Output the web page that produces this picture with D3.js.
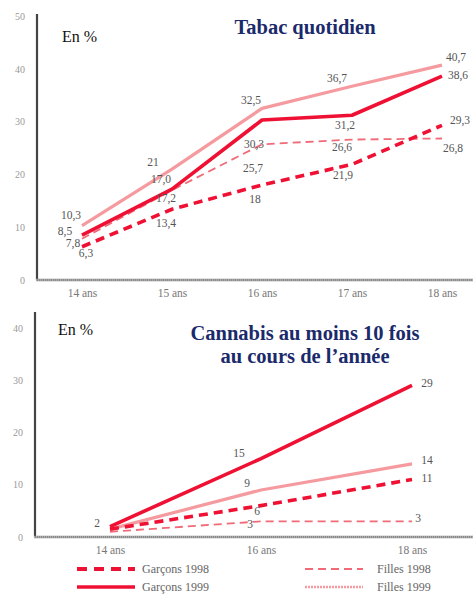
<!DOCTYPE html>
<html><head><meta charset="utf-8">
<script src="https://cdn.jsdelivr.net/npm/d3@7/dist/d3.min.js"></script>
<style>
html,body{margin:0;padding:0;background:#fff;}
svg{display:block;}
</style></head>
<body>
<svg id="c" width="473" height="595"></svg>
<script>
// ---------- DATA ----------
const tabacAges = ["14 ans", "15 ans", "16 ans", "17 ans", "18 ans"];
const tabacGarcons1998 = [6.3, 13.4, 18, 21.9, 29.3];
const tabacGarcons1999 = [8.5, 17.2, 30.3, 31.2, 38.6];
const tabacFilles1998 = [7.8, 17.0, 25.7, 26.6, 26.8];
const tabacFilles1999 = [10.3, 21, 32.5, 36.7, 40.7];
const tabacTextG98 = ["6,3", "13,4", "18", "21,9", "29,3"];
const tabacTextG99 = ["8,5", "17,2", "30,3", "31,2", "38,6"];
const tabacTextF98 = ["7,8", "17,0", "25,7", "26,6", "26,8"];
const tabacTextF99 = ["10,3", "21", "32,5", "36,7", "40,7"];
const tabacTicks = [0, 10, 20, 30, 40, 50];

const cannabisAges = ["14 ans", "16 ans", "18 ans"];
const cannabisGarcons1998 = [1.5, 6, 11];
const cannabisGarcons1999 = [2, 15, 29];
const cannabisFilles1998 = [1, 3, 3];
const cannabisFilles1999 = [1.5, 9, 14];
const cannabisTextG98 = [null, "6", "11"];
const cannabisTextG99 = ["2", "15", "29"];
const cannabisTextF98 = [null, "3", "3"];
const cannabisTextF99 = [null, "9", "14"];
const cannabisTicks = [0, 10, 20, 30, 40];

const legendNames = ["Garçons 1998", "Garçons 1999", "Filles 1998", "Filles 1999"];

// ---------- STYLES / LABEL OFFSETS ----------
const RED = "#ee1133";
const styles = {
  g98: {stroke: RED, width: 3.6, dash: "9,6"},
  g99: {stroke: RED, width: 3.6, dash: null},
  f98: {stroke: "#f06a78", width: 1.8, dash: "8,5"},
  f99: {stroke: "#f59a9f", width: 3.2, dash: null}
};
const tabacOff = {
  f99: [[-11,-11],[-19,-7],[-11,-8],[-15,-8],[14,-8]],
  g99: [[-17,-4],[-6,9],[-8,24],[-7,10],[16,-1]],
  f98: [[-9,4],[-11,-11],[-9,24],[-10,7],[11,9]],
  g98: [[4,6],[-6,14],[-7,14],[-9,11],[18,-5]]
};
const cannabisOff = {
  g99: [[-13,-4],[-22,-6],[15,-3]],
  f99: [null,[-14,-7],[15,-4]],
  g98: [null,[-4,5],[15,-2]],
  f98: [null,[-11,3],[6,-3]]
};

const svg = d3.select("#c");
const SERIF = "Liberation Serif, Times New Roman, serif";

function panel(cfg) {
  const x = d3.scalePoint().domain(cfg.ages).range(cfg.xr);
  const y = d3.scaleLinear().domain([0, cfg.ymax]).range(cfg.yr);
  const g = svg.append("g");

  // y axis
  const ya = g.append("g").attr("transform", `translate(${cfg.axisX},0)`)
    .call(d3.axisLeft(y).tickValues(cfg.ticks).tickSize(0).tickPadding(12));
  ya.select(".domain").remove();
  ya.selectAll("text").attr("font-family", SERIF).attr("font-size", 10).attr("fill", "#999");
  g.append("line").attr("x1", cfg.axisX).attr("x2", cfg.axisX)
    .attr("y1", cfg.axisTop).attr("y2", y(0)).attr("stroke", "#444").attr("stroke-width", 2.2);

  // x axis
  const xa = g.append("g").attr("transform", `translate(0,${y(0)})`)
    .call(d3.axisBottom(x).tickSize(0).tickPadding(9));
  xa.select(".domain").remove();
  xa.selectAll("text").attr("font-family", SERIF).attr("font-size", 11.5).attr("fill", "#777");
  g.append("line").attr("x1", cfg.axisX - 1).attr("x2", 473)
    .attr("y1", y(0)).attr("y2", y(0)).attr("stroke", "#8a8a8a").attr("stroke-width", 2.6);
  g.append("line").attr("x1", cfg.axisX - 1).attr("x2", 473)
    .attr("y1", y(0)).attr("y2", y(0)).attr("stroke", "#ccc").attr("stroke-width", 1)
    .attr("stroke-dasharray", "1,1");

  const line = d3.line().x((d, i) => x(cfg.ages[i])).y(d => y(d));
  cfg.series.forEach(s => {
    const st = styles[s.key];
    g.append("path").datum(s.values).attr("d", line)
      .attr("fill", "none").attr("stroke", st.stroke).attr("stroke-width", st.width)
      .attr("stroke-dasharray", st.dash).attr("stroke-linejoin", "round");
  });
  cfg.series.forEach(s => {
    s.values.forEach((v, i) => {
      const o = cfg.off[s.key][i];
      if (!o || s.text[i] == null) return;
      g.append("text").attr("x", x(cfg.ages[i]) + o[0]).attr("y", y(v) + o[1])
        .attr("dy", "0.35em").attr("text-anchor", "middle")
        .attr("font-family", SERIF).attr("font-size", 11.5).attr("fill", "#555")
        .text(s.text[i]);
    });
  });

  g.append("text").attr("x", cfg.enX).attr("y", cfg.enY).attr("font-family", SERIF)
    .attr("font-size", 16).attr("fill", "#111").text("En %");
  cfg.title.forEach((t, i) => {
    g.append("text").attr("x", 305).attr("y", cfg.titleY + i * 23).attr("text-anchor", "middle")
      .attr("font-family", SERIF).attr("font-weight", "bold").attr("font-size", 20.5)
      .attr("fill", "#1b2a6b").text(t);
  });
}

panel({
  ages: tabacAges, xr: [82, 442], ymax: 50, yr: [280, 16], ticks: tabacTicks,
  axisX: 37, axisTop: 14, off: tabacOff, enX: 62, enY: 42,
  title: ["Tabac quotidien"], titleY: 34,
  series: [
    {key: "f99", values: tabacFilles1999, text: tabacTextF99},
    {key: "f98", values: tabacFilles1998, text: tabacTextF98},
    {key: "g98", values: tabacGarcons1998, text: tabacTextG98},
    {key: "g99", values: tabacGarcons1999, text: tabacTextG99}
  ]
});

panel({
  ages: cannabisAges, xr: [110, 412], ymax: 40, yr: [537, 328], ticks: cannabisTicks,
  axisX: 35, axisTop: 312, off: cannabisOff, enX: 58, enY: 335,
  title: ["Cannabis au moins 10 fois", "au cours de l\u2019année"], titleY: 340,
  series: [
    {key: "f99", values: cannabisFilles1999, text: cannabisTextF99},
    {key: "f98", values: cannabisFilles1998, text: cannabisTextF98},
    {key: "g98", values: cannabisGarcons1998, text: cannabisTextG98},
    {key: "g99", values: cannabisGarcons1999, text: cannabisTextG99}
  ]
});

// legend
const legKeys = ["g98", "g99", "f98", "f99"];
const legPos = [[77, 569], [77, 587], [305, 569], [305, 587]];
legKeys.forEach((k, i) => {
  const st = styles[k];
  const [lx, ly] = legPos[i];
  svg.append("line").attr("x1", lx).attr("x2", lx + 58).attr("y1", ly).attr("y2", ly)
    .attr("stroke", st.stroke).attr("stroke-width", k === "g98" ? 4 : (k === "f99" ? 2.4 : st.width))
    .attr("stroke-dasharray", k === "g98" ? "10,7" : (k === "f99" ? "2,1" : st.dash));
  svg.append("text").attr("x", i < 2 ? lx + 65 : lx + 72).attr("y", ly).attr("dy", "0.35em")
    .attr("font-family", SERIF).attr("font-size", 12).attr("fill", "#666").text(legendNames[i]);
});
</script>
</body></html>
